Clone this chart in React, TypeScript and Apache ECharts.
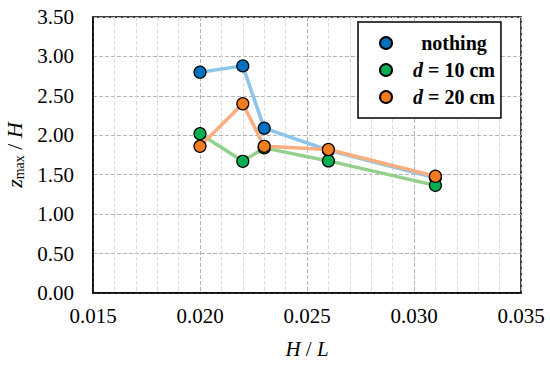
import React, { useEffect, useRef } from "react";
import * as echarts from "echarts";

const xValues = [0.020, 0.022, 0.023, 0.026, 0.031];
const nothing = [2.80, 2.88, 2.09, 1.81, 1.46];
const d10 = [2.02, 1.67, 1.84, 1.675, 1.365];
const d20 = [1.86, 2.40, 1.86, 1.82, 1.48];
const seriesNames = ["nothing", "d = 10 cm", "d = 20 cm"];
const markerColors = ["#0070C0", "#00B050", "#F47C20"];
const lineColors = ["#8CC4EA", "#92D18B", "#F9AE80"];

const FONT = "Liberation Serif";
const FS = 21;

export default function App() {
  const ref = useRef<HTMLDivElement>(null);
  useEffect(() => {
    if (!ref.current) return;
    const chart = echarts.init(ref.current, null, { renderer: "svg" });
    const datasets = [nothing, d10, d20];
    chart.setOption({
      animation: false,
      backgroundColor: "#fff",
      textStyle: { fontFamily: FONT, fontSize: FS },
      grid: {
        left: 93,
        top: 17,
        right: 29,
        bottom: 72,
        show: true,
        borderColor: "#000",
        borderWidth: 1.5,
        containLabel: false,
        outerBoundsMode: "none",
      },
      legend: {
        left: 358,
        top: 22,
        orient: "vertical",
        backgroundColor: "#fff",
        borderColor: "#000",
        borderWidth: 1.5,
        borderRadius: 0,
        padding: [11, 6, 11, 21],
        itemGap: 7,
        itemWidth: 12,
        itemHeight: 12,
        icon: "circle",
        data: seriesNames,
        formatter: (name: string) => {
          if (name.startsWith("d")) return "{i|d}{b|" + name.slice(1) + "}";
          return "{c|" + name + "}";
        },
        textStyle: {
          fontFamily: FONT,
          fontSize: 20,
          fontWeight: "bold",
          color: "#000",
          rich: {
            c: { width: 114, align: "center", fontFamily: FONT, fontSize: 20, fontWeight: "bold", color: "#000" },
            i: { fontFamily: FONT, fontSize: 20, fontWeight: "bold", fontStyle: "italic", color: "#000", padding: [0, 0, 0, 16] },
            b: { fontFamily: FONT, fontSize: 20, fontWeight: "bold", color: "#000" },
          },
        },
      },
      xAxis: {
        type: "value",
        min: 0.015,
        max: 0.035,
        interval: 0.005,
        name: "{i|H} / {i|L}",
        nameLocation: "middle",
        nameGap: 45,
        nameTextStyle: {
          fontFamily: FONT,
          fontSize: FS,
          color: "#000",
          rich: { i: { fontFamily: FONT, fontSize: FS, fontStyle: "italic", color: "#000" } },
        },
        axisLine: { show: true, lineStyle: { color: "#000", width: 1.5 } },
        axisTick: { show: false },
        axisLabel: {
          fontFamily: FONT,
          fontSize: FS,
          color: "#000",
          margin: 12,
          formatter: (v: number) => v.toFixed(3),
        },
        splitLine: { show: true, lineStyle: { color: "#B4B4B4", type: "dashed", width: 1 } },
        minorTick: { show: false, splitNumber: 5 },
        minorSplitLine: { show: true, lineStyle: { color: "#DCDCDC", type: "dashed", width: 1 } },
      },
      yAxis: {
        type: "value",
        min: 0,
        max: 3.5,
        interval: 0.5,
        name: "{i|z}{s|max}{n| / }{i|H}",
        nameLocation: "middle",
        nameGap: 60,
        nameRotate: 90,
        nameTextStyle: {
          fontFamily: FONT,
          fontSize: FS,
          color: "#000",
          rich: {
            i: { fontFamily: FONT, fontSize: 22, fontStyle: "italic", color: "#000" },
            s: { fontFamily: FONT, fontSize: 14, color: "#000", verticalAlign: "bottom", padding: [9, 0, 0, 0] },
            n: { fontFamily: FONT, fontSize: 22, color: "#000" },
          },
        },
        axisLine: { show: true, lineStyle: { color: "#000", width: 1.5 } },
        axisTick: { show: false },
        axisLabel: {
          fontFamily: FONT,
          fontSize: FS,
          color: "#000",
          margin: 19,
          formatter: (v: number) => v.toFixed(2),
        },
        splitLine: { show: true, lineStyle: { color: "#B4B4B4", type: "dashed", width: 1 } },
      },
      series: datasets.map((vals, k) => ({
        name: seriesNames[k],
        type: "line",
        data: xValues.map((x, i) => [x, vals[i]]),
        symbol: "circle",
        symbolSize: 12,
        z: 2 + k,
        lineStyle: { color: lineColors[k], width: 3.5 },
        itemStyle: { color: markerColors[k], borderColor: "#000", borderWidth: 1.2 },
        emphasis: { disabled: true },
      })),
    });
    return () => chart.dispose();
  }, []);
  return <div ref={ref} style={{ width: 550, height: 365, position: "absolute", left: 0, top: 0 }} />;
}
